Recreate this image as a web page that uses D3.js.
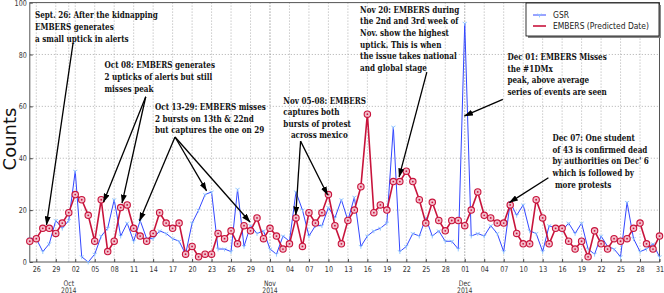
<!DOCTYPE html>
<html>
<head>
<meta charset="utf-8">
<script src="https://cdn.jsdelivr.net/npm/d3@7"></script>
<style>
body { margin: 0; background: #fff; }
svg { display: block; }
</style>
</head>
<body>
<script>
// daily counts, Sep 25 2014 .. Dec 31 2014
var startDay = Date.UTC(2014, 8, 25)

var gsr = [9, 9, 4, 7, 16, 13, 16, 35, 2, 0,
    3, 10, 13, 24, 10, 15, 8, 16, 9, 9,
    12, 11, 9, 8, 3, 15, 20, 26, 27, 5,
    5, 4, 28, 6, 14, 11, 12, 5, 3, 10,
    8, 27, 20, 10, 14, 14, 21, 17, 24, 16,
    25, 6, 10, 12, 13, 15, 52, 4, 6, 11,
    10, 17, 10, 12, 8, 8, 5, 92, 10, 11,
    10, 14, 11, 4, 23, 18, 22, 12, 11, 4,
    14, 13, 12, 15, 11, 15, 5, 3, 10, 6,
    5, 2, 23, 9, 4, 5, 7, 2]

var embers = [8, 9, 13, 13, 11, 15, 19, 26, 24, 18,
    8, 24, 4, 8, 21, 22, 13, 10, 8, 11,
    19, 15, 13, 15, 3, 6, 2, 3, 3, 11,
    9, 12, 7, 14, 12, 17, 9, 13, 10, 5,
    7, 17, 6, 19, 15, 19, 26, 14, 7, 16,
    20, 29, 57, 19, 22, 20, 31, 31, 35, 31,
    24, 15, 23, 16, 12, 16, 16, 14, 20, 27,
    18, 17, 15, 15, 22, 11, 7, 7, 24, 17,
    7, 13, 13, 8, 5, 8, 2, 12, 7, 5,
    9, 8, 9, 13, 15, 7, 5, 10]

var yTicks = [0, 20, 40, 60, 80, 100]
var monthTicks = [Date.UTC(2014, 9, 1), Date.UTC(2014, 10, 1), Date.UTC(2014, 11, 1)]
var seriesNames = ['GSR', 'EMBERS (Predicted Date)']

// annotations: text anchor and arrows in data units (days after Sep 25, count)
var notes = [
    {lines: ['Sept. 26: After the kidnapping', 'EMBERS generates', 'a small uptick in alerts'],
        at: [0.8, 93.9], from: [6.66, 84.4], to: [[2.57, 14.3]]},
    {lines: ['Oct 08: EMBERS generates', '2 upticks of alerts but still', 'misses peak'],
        at: [11.5, 74.6], from: [17.86, 63.7], to: [[11.36, 23.1], [14.21, 22.7]]},
    {lines: ['Oct 13-29: EMBERS misses', '2 bursts on 13th & 22nd', 'but captures the one on 29'],
        at: [19.29, 58.6], from: [22.37, 48.2], to: [[16.9, 15.8], [27.23, 27.4], [33.93, 15.4]]},
    {lines: ['Nov 05-08: EMBERS', 'captures both', 'bursts of protest', '\u00a0\u00a0\u00a0across mexico'],
        at: [39.06, 61.1], from: [41.71, 46.6], to: [[40.97, 18.1], [45.87, 25.8]]},
    {lines: ['Nov 20: EMBERS during', 'the 2nd and 3rd week of', 'Nov. show the highest',
        'uptick. This is when', 'the issue takes national', 'and global stage'],
        at: [50.88, 96.1], from: [61.16, 73.2], to: [[56.89, 32.8]]},
    {lines: ['Dec 01: EMBERS Misses', 'the #1DMx', 'peak, above average', 'series of events are seen'],
        at: [73.57, 77.9], from: [72.87, 62.7], to: [[66.95, 56.3]]},
    {lines: ['Dec 07: One student', 'of 43 is confirmed dead', "by authorities on Dec' 6",
        'which is followed by', '\u00a0more protests'],
        at: [80.51, 46.6], from: [79.89, 32.5], to: [[73.88, 22.9]]}
]

var width = 664, height = 293
var plotLeft = 29.8, plotRight = 659.5, plotTop = 2.6, plotBottom = 262
var squeeze = 0.8   // the figure text is horizontally narrow
var dayMs = 864e5
var day = i => new Date(startDay + i * dayMs)

var svg = d3.select('body').append('svg')
    .attr('width', width)
    .attr('height', height)

var x = d3.scaleUtc()
    .domain([day(0), day(gsr.length - 1)])
    .range([plotLeft, plotRight])
var y = d3.scaleLinear()
    .domain([0, 100])
    .range([plotBottom, plotTop])

var dayTicks = d3.range(1, gsr.length, 3).map(day)

// grid
var grid = svg.append('g').attr('stroke', '#9a9a9a').attr('stroke-width', 0.8)
    .attr('stroke-dasharray', '1,2')
grid.selectAll('.vx').data(dayTicks.concat(monthTicks.map(t => new Date(t)))).enter()
    .append('line')
    .attr('x1', d => x(d)).attr('x2', d => x(d))
    .attr('y1', plotTop).attr('y2', plotBottom)
grid.selectAll('.hy').data(yTicks.slice(1, -1)).enter()
    .append('line')
    .attr('x1', plotLeft).attr('x2', plotRight)
    .attr('y1', d => y(d)).attr('y2', d => y(d))

// axes
var xAxis = d3.axisBottom(x).tickValues(dayTicks).tickFormat(d3.utcFormat('%d'))
    .tickSizeInner(-3).tickSizeOuter(0).tickPadding(4)
svg.append('g').attr('transform', 'translate(0,' + plotBottom + ')').call(xAxis)
    .call(g => g.select('.domain').remove())
    .call(g => g.selectAll('text').attr('font-family', 'DejaVu Sans').attr('font-size', 8)
        .attr('fill', '#333').attr('transform', 'scale(' + squeeze + ',1)'))
    .call(g => g.selectAll('line').attr('stroke', '#444'))

var yAxis = d3.axisLeft(y).tickValues(yTicks).tickFormat(d3.format('d'))
    .tickSizeInner(-3).tickSizeOuter(0).tickPadding(3)
svg.append('g').attr('transform', 'translate(' + plotLeft + ',0)').call(yAxis)
    .call(g => g.select('.domain').remove())
    .call(g => g.selectAll('text').attr('font-family', 'DejaVu Sans').attr('font-size', 8)
        .attr('fill', '#333').attr('x', -3 / squeeze).attr('transform', 'scale(' + squeeze + ',1)'))
    .call(g => g.selectAll('line').attr('stroke', '#444'))

var months = svg.append('g').attr('font-family', 'DejaVu Sans').attr('font-size', 7.6)
    .attr('fill', '#333').attr('text-anchor', 'middle')
months.selectAll('text').data(monthTicks).enter().append('text')
    .attr('transform', d => 'translate(' + x(new Date(d)) + ',0) scale(' + squeeze + ',1)')
    .attr('y', 286.5)
    .call(t => {
        t.append('tspan').text(d => d3.utcFormat('%b')(new Date(d)))
        t.append('tspan').attr('x', 0).attr('dy', 6.5).text(d => d3.utcFormat('%Y')(new Date(d)))
    })

svg.append('text')
    .attr('transform', 'translate(16,139) rotate(-90)')
    .attr('text-anchor', 'middle')
    .attr('font-family', 'DejaVu Sans')
    .attr('font-size', 18)
    .attr('fill', '#111')
    .text('Counts')

// frame
svg.append('rect')
    .attr('x', plotLeft).attr('y', plotTop)
    .attr('width', plotRight - plotLeft).attr('height', plotBottom - plotTop)
    .attr('fill', 'none').attr('stroke', '#555').attr('stroke-width', 1)

// series
var blue = '#3347ff', red = '#c8143c'
var line = d3.line().x((d, i) => x(day(i))).y(d => y(d))

svg.append('path').datum(gsr)
    .attr('d', line)
    .attr('fill', 'none').attr('stroke', blue).attr('stroke-width', 1)
svg.append('g').selectAll('path').data(gsr).enter().append('path')
    .attr('transform', (d, i) => 'translate(' + x(day(i)) + ',' + y(d) + ')')
    .attr('d', 'M0,0L0,2.4M0,0L-2.1,-1.2M0,0L2.1,-1.2')
    .attr('stroke', '#8cc4ff').attr('stroke-width', 0.9).attr('fill', 'none')

svg.append('path').datum(embers)
    .attr('d', line)
    .attr('fill', 'none').attr('stroke', red).attr('stroke-width', 1.6)
var dots = svg.append('g').selectAll('g').data(embers).enter().append('g')
    .attr('transform', (d, i) => 'translate(' + x(day(i)) + ',' + y(d) + ')')
dots.append('circle').attr('r', 3.2)
    .attr('fill', '#f3bfcc').attr('stroke', red).attr('stroke-width', 1.1)
dots.append('circle').attr('r', 0.9).attr('fill', red)

// annotations
var defs = svg.append('defs')
defs.append('marker')
    .attr('id', 'head')
    .attr('markerUnits', 'userSpaceOnUse')
    .attr('markerWidth', 9).attr('markerHeight', 6)
    .attr('refX', 8.5).attr('refY', 3)
    .attr('orient', 'auto')
    .append('path').attr('d', 'M0,0L9,3L0,6Z').attr('fill', '#000')

var pt = p => [x(day(0)) + (x(day(1)) - x(day(0))) * p[0], y(p[1])]

var ann = svg.append('g')
notes.forEach(n => {
    var s = pt(n.from)
    n.to.forEach(t => {
        var e = pt(t)
        ann.append('line')
            .attr('x1', s[0]).attr('y1', s[1])
            .attr('x2', e[0]).attr('y2', e[1])
            .attr('stroke', '#000').attr('stroke-width', 1.3)
            .attr('marker-end', 'url(#head)')
    })
    var a = pt(n.at)
    ann.append('text')
        .attr('transform', 'translate(' + a[0] + ',0) scale(0.785,1)')
        .attr('font-family', 'DejaVu Serif')
        .attr('font-weight', 'bold')
        .attr('font-size', 9.2)
        .attr('fill', '#111')
        .selectAll('tspan').data(n.lines).enter().append('tspan')
        .attr('x', 0)
        .attr('y', (d, i) => a[1] + i * 11.6)
        .text(d => d)
})

// legend
var lg = svg.append('g')
lg.append('rect').attr('x', 528).attr('y', 5).attr('width', 133).attr('height', 33).attr('fill', '#888')
lg.append('rect').attr('x', 526).attr('y', 3).attr('width', 133).attr('height', 33)
    .attr('fill', '#fff').attr('stroke', '#000').attr('stroke-width', 0.8)
var items = lg.selectAll('.item').data(seriesNames).enter().append('g')
    .attr('transform', (d, i) => 'translate(533,' + (15 + i * 11) + ')')
items.append('line').attr('x1', 0).attr('x2', 13)
    .attr('stroke', (d, i) => i ? red : blue).attr('stroke-width', (d, i) => i ? 1.6 : 1)
items.filter((d, i) => i == 0).append('path')
    .attr('transform', 'translate(6.5,0)')
    .attr('d', 'M0,0L0,2.4M0,0L-2.1,-1.2M0,0L2.1,-1.2')
    .attr('stroke', '#8cc4ff').attr('stroke-width', 0.9)
items.append('text')
    .attr('transform', 'translate(20,3.2) scale(' + squeeze + ',1)')
    .attr('font-family', 'DejaVu Sans').attr('font-size', 9.5).attr('fill', '#222')
    .text(d => d)
</script>
</body>
</html>
